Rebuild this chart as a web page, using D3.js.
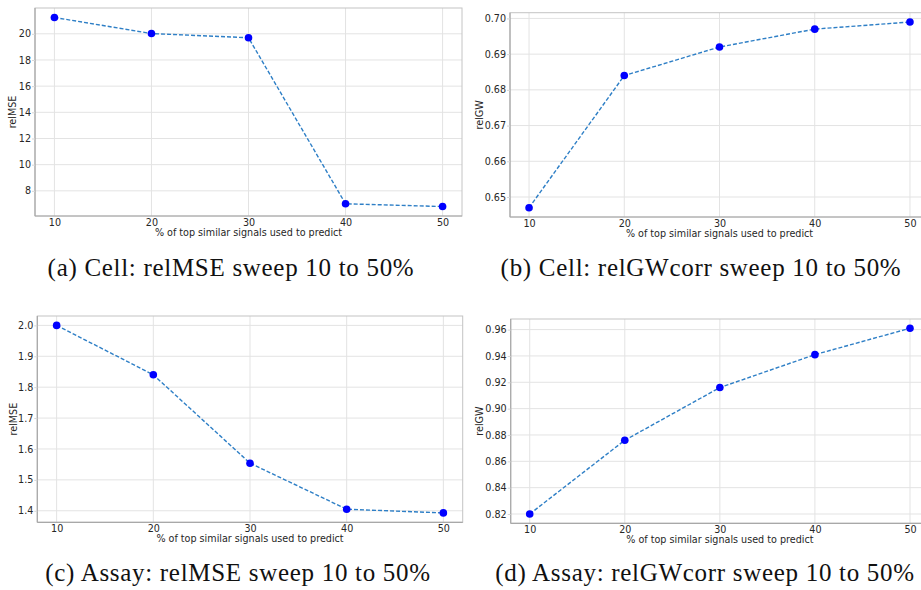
<!DOCTYPE html>
<html>
<head>
<meta charset="utf-8">
<script src="https://cdn.jsdelivr.net/npm/d3@7"></script>
<style>
  html, body { margin: 0; padding: 0; background: #ffffff; }
  svg { display: block; }
</style>
</head>
<body>
<svg id="chart" width="921" height="590"></svg>
<script>
// ---------------- data ----------------
const pctValues = [10, 20, 30, 40, 50];
const xTickLabels = ["10", "20", "30", "40", "50"];

const cellRelMSE = [21.25, 20.02, 19.70, 7.01, 6.80];
const cellRelGW = [0.647, 0.684, 0.692, 0.697, 0.699];
const assayRelMSE = [2.000, 1.840, 1.554, 1.405, 1.393];
const assayRelGW = [0.820, 0.876, 0.916, 0.941, 0.961];

const yTicksCellMSE = [8, 10, 12, 14, 16, 18, 20];
const yTicksCellGW = [0.65, 0.66, 0.67, 0.68, 0.69, 0.70];
const yTicksAssayMSE = [1.4, 1.5, 1.6, 1.7, 1.8, 1.9, 2.0];
const yTicksAssayGW = [0.82, 0.84, 0.86, 0.88, 0.90, 0.92, 0.94, 0.96];

const yLabels = ["relMSE", "relGW", "relMSE", "relGW"];
const xLabel = "% of top similar signals used to predict";
const captions = [
  "(a) Cell: relMSE sweep 10 to 50%",
  "(b) Cell: relGWcorr sweep 10 to 50%",
  "(c) Assay: relMSE sweep 10 to 50%",
  "(d) Assay: relGWcorr sweep 10 to 50%"
];

// ---------------- layout ----------------
const panels = [
  { values: cellRelMSE, ticks: yTicksCellMSE, fmt: d3.format("d"),
    box: { l: 35, t: 8, r: 462, b: 216 }, ylx: 13, cap: { x: 231, y: 276 } },
  { values: cellRelGW, ticks: yTicksCellGW, fmt: d3.format(".2f"),
    box: { l: 510, t: 12.7, r: 929, b: 217 }, ylx: 480, cap: { x: 701, y: 276 } },
  { values: assayRelMSE, ticks: yTicksAssayMSE, fmt: d3.format(".1f"),
    box: { l: 37.3, t: 316, r: 462.7, b: 522.3 }, ylx: 14, cap: { x: 238, y: 581 } },
  { values: assayRelGW, ticks: yTicksAssayGW, fmt: d3.format(".2f"),
    box: { l: 510.7, t: 319, r: 929, b: 523.3 }, ylx: 480, cap: { x: 705, y: 581 } }
];

const svg = d3.select("#chart");
const tickFont = "DejaVu Sans, sans-serif";
const textColor = "#262626";

panels.forEach((p, i) => {
  const box = p.box;
  const x = d3.scaleLinear().domain([8, 52]).range([box.l, box.r]);
  const ext = d3.extent(p.values);
  const pad = (ext[1] - ext[0]) * 0.05;
  const y = d3.scaleLinear().domain([ext[0] - pad, ext[1] + pad]).range([box.b, box.t]);

  const g = svg.append("g");

  // gridlines
  g.append("g").selectAll("line.vg").data(pctValues).join("line")
    .attr("x1", d => x(d)).attr("x2", d => x(d))
    .attr("y1", box.t).attr("y2", box.b)
    .attr("stroke", "#e3e3e3").attr("stroke-width", 1);
  g.append("g").selectAll("line.hg").data(p.ticks).join("line")
    .attr("x1", box.l).attr("x2", box.r)
    .attr("y1", d => y(d)).attr("y2", d => y(d))
    .attr("stroke", "#e3e3e3").attr("stroke-width", 1);

  // spines
  g.append("rect")
    .attr("x", box.l).attr("y", box.t)
    .attr("width", box.r - box.l).attr("height", box.b - box.t)
    .attr("fill", "none").attr("stroke", "#c4c4c4").attr("stroke-width", 1);
  g.append("line").attr("x1", box.l).attr("x2", box.l).attr("y1", box.t).attr("y2", box.b)
    .attr("stroke", "#a8a8a8").attr("stroke-width", 1.2);
  g.append("line").attr("x1", box.l).attr("x2", box.r).attr("y1", box.b).attr("y2", box.b)
    .attr("stroke", "#a8a8a8").attr("stroke-width", 1.2);

  // axes
  const xAxis = d3.axisBottom(x).tickValues(pctValues)
    .tickFormat((d, k) => xTickLabels[k]).tickSize(0).tickPadding(3);
  const gx = g.append("g").attr("transform", `translate(0,${box.b})`).call(xAxis);
  gx.select(".domain").remove();
  gx.selectAll("text").attr("font-family", tickFont).attr("font-size", "9.6px").attr("fill", textColor);

  const yAxis = d3.axisLeft(y).tickValues(p.ticks).tickFormat(p.fmt).tickSize(3).tickPadding(1);
  const gy = g.append("g").attr("transform", `translate(${box.l},0)`).call(yAxis);
  gy.select(".domain").remove();
  gy.selectAll("line").attr("stroke", "#d6d6d6");
  gy.selectAll("text").attr("font-family", tickFont).attr("font-size", "9.6px").attr("fill", textColor);

  // axis labels
  g.append("text")
    .attr("x", (box.l + box.r) / 2).attr("y", box.b + 20)
    .attr("text-anchor", "middle")
    .attr("font-family", tickFont).attr("font-size", "9.6px").attr("fill", textColor)
    .text(xLabel);
  g.append("text")
    .attr("transform", `translate(${p.ylx},${(box.t + box.b) / 2}) rotate(-90)`)
    .attr("text-anchor", "middle").attr("dy", "0.35em")
    .attr("font-family", tickFont).attr("font-size", "9.6px").attr("fill", textColor)
    .text(yLabels[i]);

  // line
  const line = d3.line().x((d, k) => x(pctValues[k])).y(d => y(d));
  g.append("path").datum(p.values)
    .attr("d", line)
    .attr("fill", "none").attr("stroke", "#2e7fc6").attr("stroke-width", 1.4)
    .attr("stroke-dasharray", "4,2");

  // markers
  g.selectAll("circle").data(p.values).join("circle")
    .attr("cx", (d, k) => x(pctValues[k])).attr("cy", d => y(d))
    .attr("r", 3.8).attr("fill", "#0000ff");

  // caption
  svg.append("text")
    .attr("x", p.cap.x).attr("y", p.cap.y)
    .attr("text-anchor", "middle")
    .attr("font-family", "Liberation Serif, serif").attr("font-size", "25px")
    .attr("letter-spacing", "0.7px")
    .attr("fill", "#111")
    .text(captions[i]);
});
</script>
</body>
</html>
